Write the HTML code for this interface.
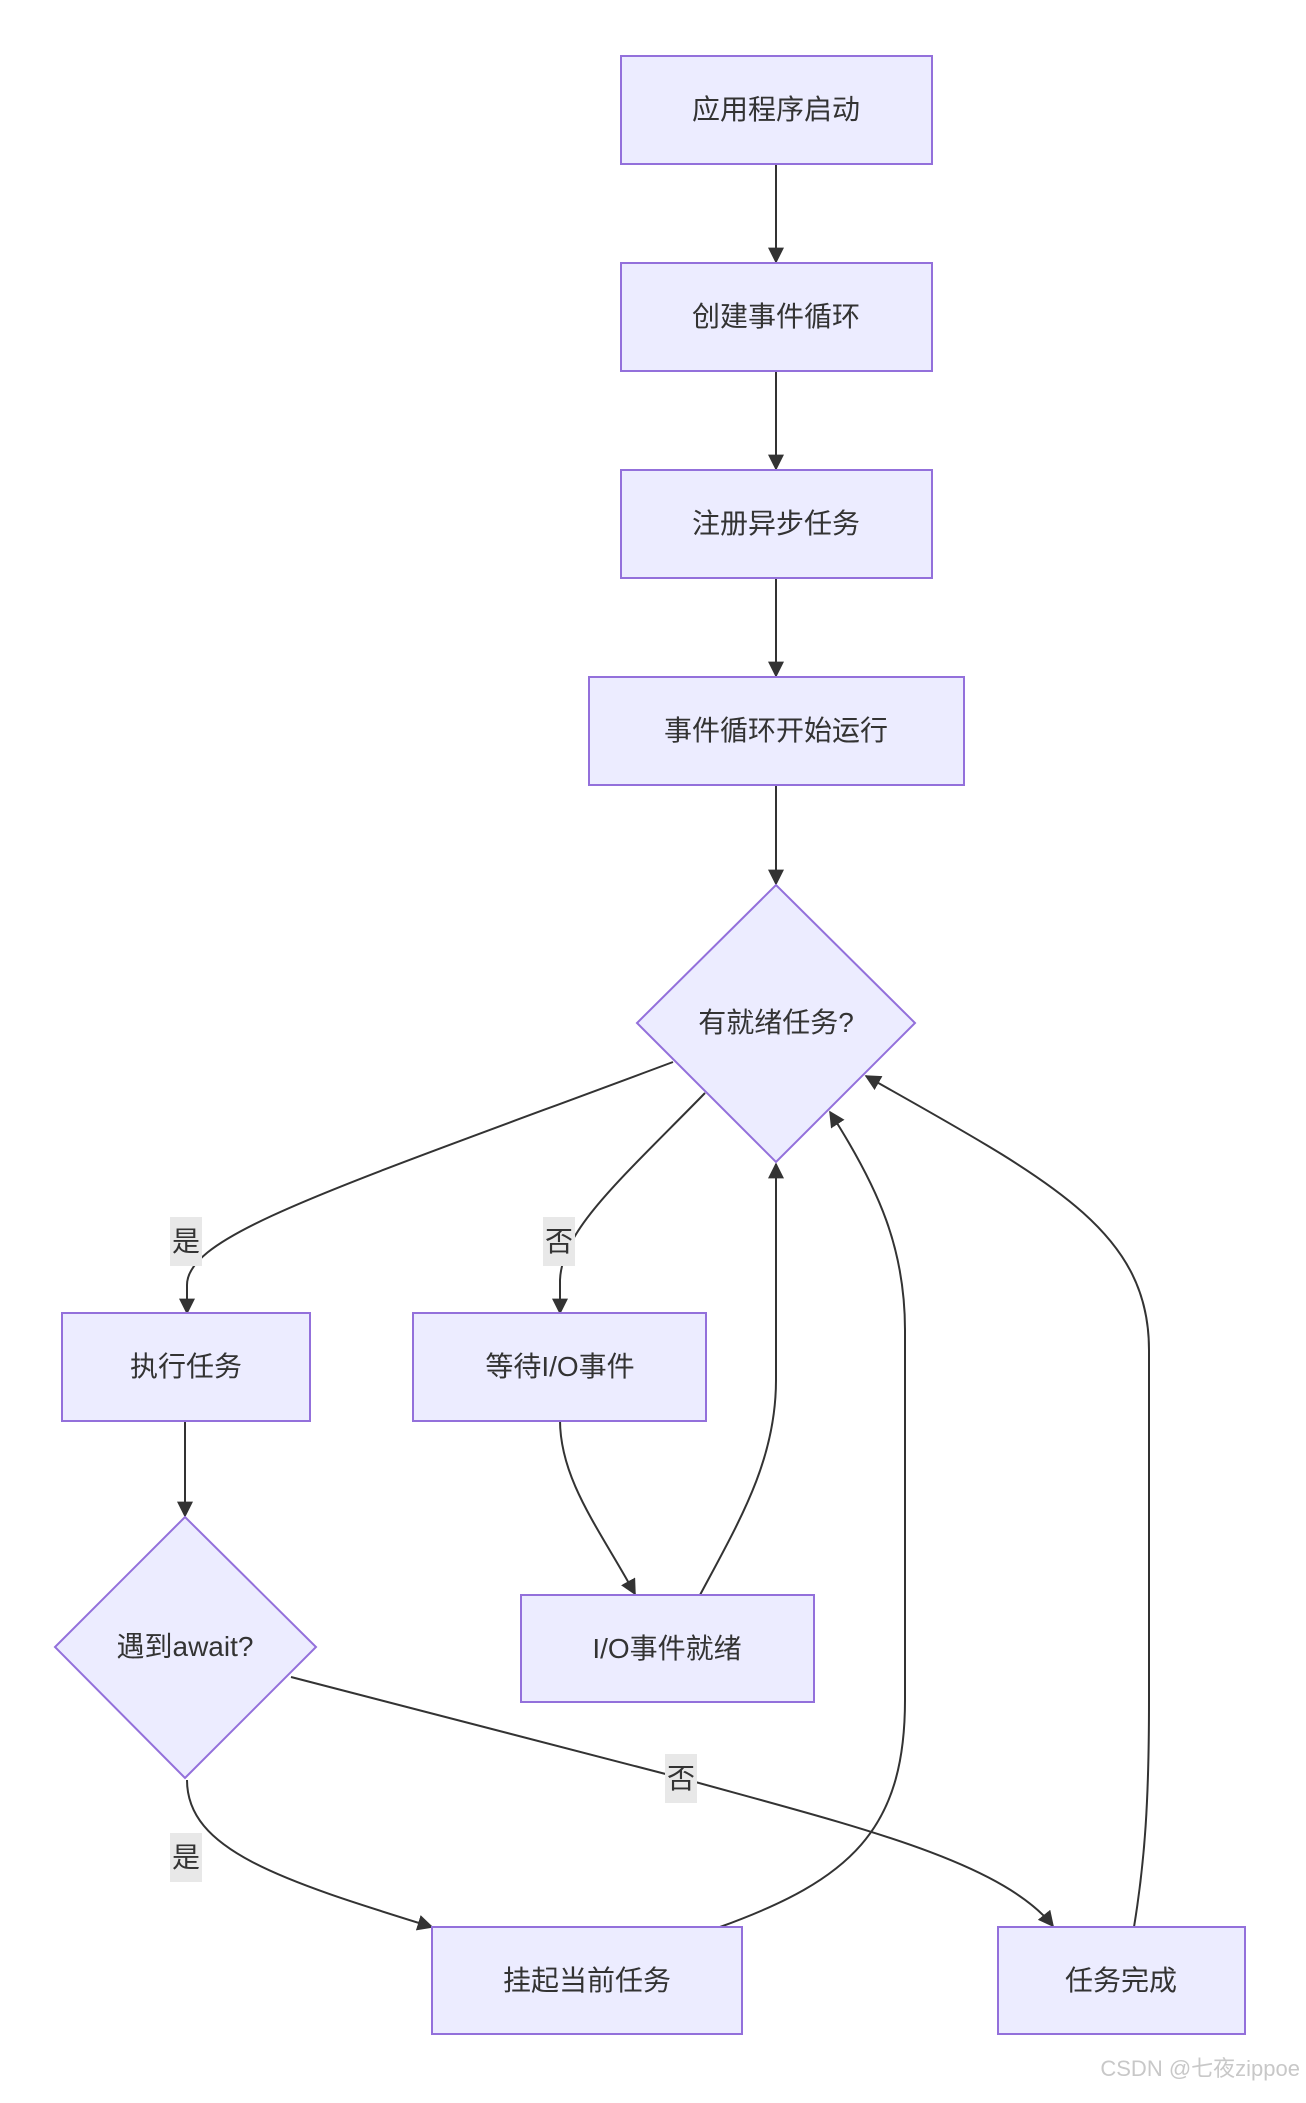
<!DOCTYPE html>
<html><head><meta charset="utf-8"><style>
html,body{margin:0;padding:0;background:#fff;}
svg text{font-family:"Liberation Sans","Noto Sans CJK SC",sans-serif;fill:#333;}
</style></head><body>
<svg width="1306" height="2098" viewBox="0 0 1306 2098" xmlns="http://www.w3.org/2000/svg">
<defs><marker id="a" viewBox="0 0 10 10" refX="9" refY="5" markerWidth="9" markerHeight="9" markerUnits="userSpaceOnUse" orient="auto"><path d="M0,0 L10,5 L0,10 z" fill="#333"/></marker>
<marker id="b" viewBox="0 0 10 10" refX="9" refY="5" markerWidth="16" markerHeight="16" markerUnits="userSpaceOnUse" orient="auto"><path d="M0,0 L10,5 L0,10 z" fill="#333"/></marker></defs>
<g fill="none" stroke="#333" stroke-width="2" marker-end="url(#b)">
<path d="M776,164 L776,262"/>
<path d="M776,371 L776,469"/>
<path d="M776,578 L776,676"/>
<path d="M776,786 L776,884"/>
<path d="M673,1062 C330,1190 187,1235 187,1285 L187,1313"/>
<path d="M705,1093 C620,1180 562,1230 560,1280 L560,1313"/>
<path d="M560,1420 C560,1480 600,1530 635,1594"/>
<path d="M700,1595 C740,1520 776,1460 776,1380 L776,1164"/>
<path d="M720,1927 C850,1880 905,1830 905,1700 L905,1330 C905,1250 880,1190 830,1112"/>
<path d="M1134,1927 C1145,1860 1149,1800 1149,1700 L1149,1350 C1149,1230 1050,1180 866,1076"/>
<path d="M187,1780 C187,1850 280,1880 432,1927"/>
<path d="M291,1677 L681,1778 C850,1825 1000,1860 1053,1926"/>
<path d="M185,1420 L185,1516"/>
</g>
<g fill="#ECECFF" stroke="#9370DB" stroke-width="2">
<rect x="621" y="56" width="311" height="108"/>
<rect x="621" y="263" width="311" height="108"/>
<rect x="621" y="470" width="311" height="108"/>
<rect x="589" y="677" width="375" height="108"/>
<polygon points="776,885 915,1023 776,1162 637,1023"/>
<rect x="62" y="1313" width="248" height="108"/>
<rect x="413" y="1313" width="293" height="108"/>
<polygon points="185,1517 316,1647 185,1778 55,1647"/>
<rect x="521" y="1595" width="293" height="107"/>
<rect x="432" y="1927" width="310" height="107"/>
<rect x="998" y="1927" width="247" height="107"/>
</g>
<g font-size="28" text-anchor="middle">
<text x="776" y="119">应用程序启动</text>
<text x="776" y="326">创建事件循环</text>
<text x="776" y="533">注册异步任务</text>
<text x="776" y="740">事件循环开始运行</text>
<text x="776" y="1032">有就绪任务?</text>
<text x="186" y="1376">执行任务</text>
<text x="560" y="1376">等待I/O事件</text>
<text x="185" y="1656">遇到await?</text>
<text x="667" y="1658">I/O事件就绪</text>
<text x="587" y="1990">挂起当前任务</text>
<text x="1121" y="1990">任务完成</text>
</g>
<g fill="#e8e8e8"><rect x="170" y="1217" width="32" height="49"/><rect x="543" y="1217" width="32" height="49"/><rect x="170" y="1833" width="32" height="49"/><rect x="665" y="1754" width="32" height="49"/></g>
<g font-size="28" text-anchor="middle">
<text x="186" y="1251">是</text><text x="559" y="1251">否</text><text x="186" y="1867">是</text><text x="681" y="1788">否</text>
</g>
<text x="1300" y="2076" font-size="22" text-anchor="end" style="fill:#c8c8c8">CSDN @七夜zippoe</text>
</svg>
</body></html>
